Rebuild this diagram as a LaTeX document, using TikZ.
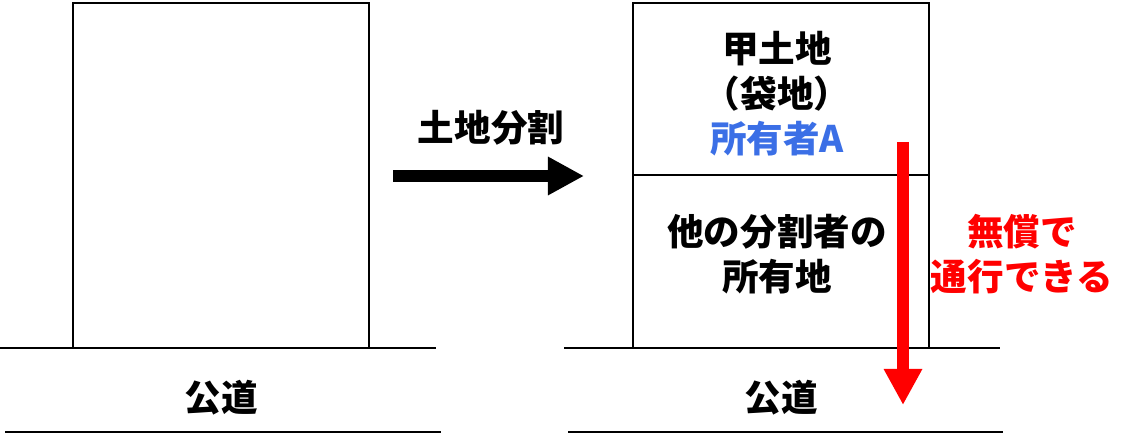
\documentclass[tikz,border=0pt]{standalone}
\usepackage{fontspec}
\setmainfont{Noto Sans CJK JP}
\usetikzlibrary{positioning, arrows.meta}
\definecolor{ownerblue}{RGB}{59, 111, 230}
\definecolor{passred}{RGB}{255, 0, 0}

\begin{document}
\begin{tikzpicture}[x=0.025cm, y=-0.025cm, font=\fontsize{26}{32}\selectfont\bfseries, >=Stealth,
    lot/.style={draw, line width=1.4pt, inner sep=0pt},
    road/.style={line width=2pt},
    bigarrow/.style={line width=0.3cm, -{Triangle[length=0.9cm, width=0.9cm]}}]
  \useasboundingbox (0,0) rectangle (1143,445);
  % before division
  \node[lot, minimum width=7.4cm, minimum height=8.625cm] (before) at (221,175.5) {};
  \draw[road] (0,348) -- (436,348);
  \draw[road] (5,432) -- (441,432);
  \node (roadL) at (221,398) {公道};
  % division arrow
  \node (split) at (491,128) {土地分割};
  \coordinate (splitS) at (393,176);
  \coordinate (splitE) at (584,176);
  \draw[bigarrow] (splitS) -- (splitE);
  % after division
  \node[lot, minimum width=7.4cm, minimum height=4.3cm] (kou) at (781,89) {};
  \node[lot, minimum width=7.4cm, minimum height=4.325cm] (other) at (781,261.5) {};
  \node[align=center] (kouT) at (777,94) {甲土地\\（袋地）\\\textcolor{ownerblue}{所有者A}};
  \node[align=center] (otherT) at (777,254.5) {他の分割者の\\所有地};
  \draw[road] (564,348) -- (1000,348);
  \draw[road] (568,432) -- (1003,432);
  \node (roadR) at (781,398) {公道};
  % free passage
  \coordinate (passS) at (903,142);
  \coordinate (passE) at (903,405);
  \draw[bigarrow, passred] (passS) -- (passE);
  \node[align=center, text=passred] (pass) at (1022,254.5) {無償で\\通行できる};
\end{tikzpicture}
\end{document}
